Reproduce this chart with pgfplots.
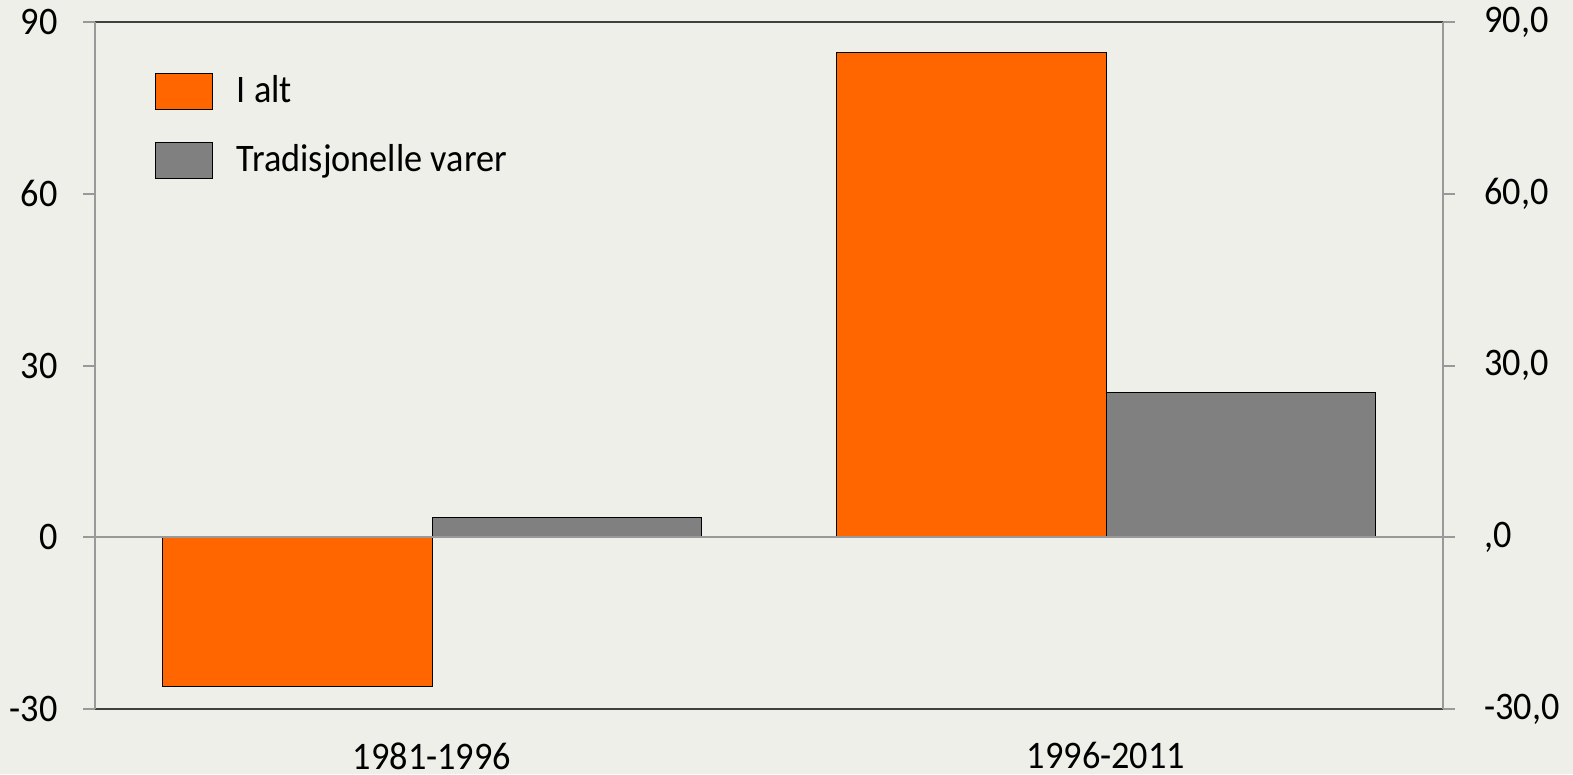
\documentclass[border=0pt]{standalone}
\usepackage{fontspec}
\setmainfont{Carlito}[FakeStretch=0.93]
\usepackage{pgfplots}
\pgfplotsset{compat=1.18}
\usetikzlibrary{backgrounds,calc}
\definecolor{bg}{HTML}{EFEFE9}
\definecolor{org}{HTML}{FF6600}
\definecolor{gry}{HTML}{808080}
\definecolor{axg}{HTML}{999999}
\definecolor{frm}{HTML}{404040}
\begin{document}
\fontsize{19.5}{23}\selectfont
\begin{tikzpicture}
\pgfplotsset{
  common/.style={
    scale only axis, width=674pt, height=343.5pt,
    xmin=-0.5, xmax=1.5, ymin=-30, ymax=90,
    ytick={-30,0,30,60,90},
    tick align=outside, major tick length=6pt,
    ytick style={axg, line width=1pt},
    /pgf/number format/assume math mode=true,
    ticklabel style={font=\fontsize{19.5}{23}\selectfont, text=black},
  }
}
\begin{axis}[
  common, name=main,
  separate axis lines,
  x axis line style={frm, line width=1pt},
  y axis line style={axg, line width=1pt},
  ytick pos=left,
  yticklabels={-30,0,30,60,90},
  xtick={0,1}, xticklabels={1981-1996,1996-2011},
  xtick style={draw=none},
  xticklabel style={inner sep=0pt, yshift=-10.5pt},
  yticklabel style={xshift=-6pt},
  ybar=0pt, bar width=0.4,
  legend style={draw=none, fill=none, at={(0.0400,0.935)}, anchor=north west,
    row sep=14pt, font=\fontsize{19.5}{23}\selectfont},
  legend cell align=left,
  legend image code/.code={\draw[#1] (0pt,-9pt) rectangle (28.5pt,9pt); \path[draw=none, fill=none] (28.5pt,0pt) -- (38.5pt,0pt);},
]
\addplot[fill=org, draw=black, line width=0.5pt] coordinates {(0,-26.0) (1,84.6)};
\addplot[fill=gry, draw=black, line width=0.5pt] coordinates {(0,3.5) (1,25.2)};
\draw[axg, line width=1pt] (axis cs:-0.5,0) -- (axis cs:1.5,0);
\legend{I alt, Tradisjonelle varer}
\end{axis}
\begin{axis}[
  common,
  axis x line=none,
  axis y line*=right,
  y axis line style={axg, line width=1pt},
  yticklabels={{-30,0},{,0},{30,0},{60,0},{90,0}},
  yticklabel style={xshift=8pt},
]
\end{axis}
\begin{pgfonlayer}{background}
\fill[bg] ($(main.south west)+(-47.5pt,-32.5pt)$) rectangle ($(main.north east)+(65pt,11pt)$);
\end{pgfonlayer}
\pgfresetboundingbox
\path ($(main.south west)+(-47.5pt,-32.5pt)$) rectangle ($(main.north east)+(65pt,11pt)$);
\end{tikzpicture}
\end{document}
